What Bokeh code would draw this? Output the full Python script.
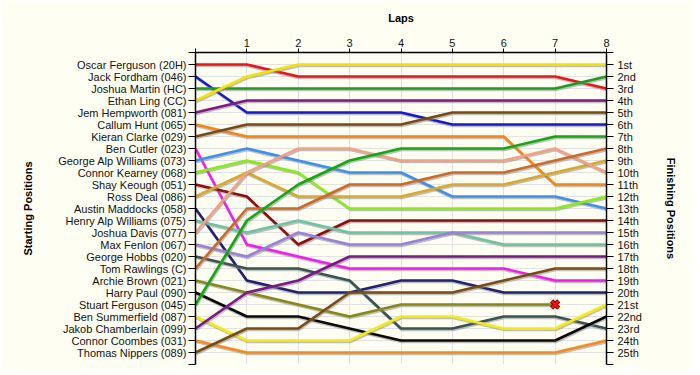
from bokeh.plotting import figure
from bokeh.models import Range1d, LinearAxis, FixedTicker
from bokeh.embed import file_html
from bokeh.resources import INLINE

laps = [0, 1, 2, 3, 4, 5, 6, 7, 8]

drivers = [
    "Oscar Ferguson (20H)", "Jack Fordham (046)", "Joshua Martin (HC)", "Ethan Ling (CC)",
    "Jem Hempworth (081)", "Callum Hunt (065)", "Kieran Clarke (029)", "Ben Cutler (023)",
    "George Alp Williams (073)", "Connor Kearney (068)", "Shay Keough (051)", "Ross Deal (086)",
    "Austin Maddocks (058)", "Henry Alp Williams (075)", "Joshua Davis (077)", "Max Fenlon (067)",
    "George Hobbs (020)", "Tom Rawlings (C)", "Archie Brown (021)", "Harry Paul (090)",
    "Stuart Ferguson (045)", "Ben Summerfield (087)", "Jakob Chamberlain (099)",
    "Connor Coombes (031)", "Thomas Nippers (089)",
]

colors = [
    "#E8161B", "#1A1ACD", "#1F9A22", "#F2E205",
    "#80188A", "#FB8411", "#7A4A14", "#F51BF0",
    "#3A92EE", "#86EE14", "#8C0E0E", "#DBA928",
    "#22226E", "#6CC4A4", "#F4A084", "#9A80DA",
    "#385450", "#CC6A2A", "#888818", "#0A0A0A",
    "#12A812", "#F5EB14", "#7A1A8A",
    "#F88A1C", "#7A4A14",
]

# position of each driver at laps 0..8 (lap 0 = starting grid)
positions = [
    [1, 1, 2, 2, 2, 2, 2, 2, 3],
    [2, 5, 5, 5, 5, 6, 6, 6, 6],
    [3, 3, 3, 3, 3, 3, 3, 3, 2],
    [4, 2, 1, 1, 1, 1, 1, 1, 1],
    [5, 4, 4, 4, 4, 4, 4, 4, 4],
    [6, 7, 7, 7, 7, 7, 7, 11, 11],
    [7, 6, 6, 6, 6, 5, 5, 5, 5],
    [8, 16, 17, 18, 18, 18, 18, 19, 19],
    [9, 8, 9, 10, 10, 12, 12, 12, 13],
    [10, 9, 10, 13, 13, 13, 13, 13, 12],
    [11, 12, 16, 14, 14, 14, 14, 14, 14],
    [12, 10, 12, 12, 12, 11, 11, 10, 9],
    [13, 19, 20, 20, 19, 19, 20, 20, 20],
    [14, 15, 14, 15, 15, 15, 16, 16, 16],
    [15, 10, 8, 8, 9, 9, 9, 8, 10],
    [16, 17, 15, 16, 16, 15, 15, 15, 15],
    [17, 18, 18, 19, 23, 23, 22, 22, 23],
    [18, 13, 13, 11, 11, 10, 10, 9, 8],
    [19, 20, 21, 22, 21, 21, 21, 21, None],
    [20, 22, 22, 23, 24, 24, 24, 24, 22],
    [21, 14, 11, 9, 8, 8, 8, 7, 7],
    [22, 24, 24, 24, 22, 22, 23, 23, 21],
    [23, 20, 19, 17, 17, 17, 17, 17, 17],
    [24, 25, 25, 25, 25, 25, 25, 25, 24],
    [25, 23, 23, 20, 20, 20, 19, 18, 18],
]

retired_driver = "Archie Brown (021)"
retired_lap = 7

finish_labels = ["1st", "2nd", "3rd"] + [f"{i}th" for i in range(4, 21)] + ["21st", "22nd", "23rd", "24th", "25th"]

n = len(drivers)
BG = "#FFFEF3"
FONT = "Liberation Sans"

p = figure(width=692, height=370, output_backend="svg", toolbar_location=None,
           x_range=Range1d(0, 8), y_range=Range1d(n + 1, 0),
           x_axis_location="above",
           min_border_left=195, min_border_right=86, min_border_top=52, min_border_bottom=6)
p.background_fill_color = BG
p.border_fill_color = BG
p.outline_line_color = None

p.xgrid.ticker = FixedTicker(ticks=laps)
p.ygrid.ticker = FixedTicker(ticks=list(range(0, n + 2)))
p.xgrid.grid_line_color = "#E2E2E2"
p.ygrid.grid_line_color = "#E2E2E2"

# x axis (top)
xa = p.xaxis[0]
xa.ticker = FixedTicker(ticks=laps)
xa.major_label_overrides = {0: ""}
xa.axis_label = "Laps"
xa.axis_label_text_font = FONT
xa.axis_label_text_font_style = "bold"
xa.axis_label_text_font_size = "11px"
xa.axis_label_text_color = "black"
xa.axis_label_standoff = 12
xa.major_label_text_font = FONT
xa.major_label_text_font_size = "11px"
xa.major_label_text_color = "#111111"
xa.major_label_standoff = 2
xa.major_tick_out = 4
xa.major_tick_in = 0
xa.minor_tick_line_color = None
xa.axis_line_width = 1.5

ticks_y = list(range(0, n + 2))
left_over = {0: "", n + 1: ""}
for i, d in enumerate(drivers):
    left_over[i + 1] = d
right_over = {0: "", n + 1: ""}
for i, t in enumerate(finish_labels):
    right_over[i + 1] = t

ya = p.yaxis[0]
ya.ticker = FixedTicker(ticks=ticks_y)
ya.major_label_overrides = left_over
ya.axis_label = "Starting Positions"

ra = LinearAxis(ticker=FixedTicker(ticks=ticks_y), major_label_overrides=right_over,
                axis_label="Finishing Positions")
p.add_layout(ra, "right")

for ax in (ya, ra):
    ax.axis_label_text_font = FONT
    ax.axis_label_text_font_style = "bold"
    ax.axis_label_text_font_size = "11px"
    ax.axis_label_text_color = "black"
    ax.major_label_text_font = FONT
    ax.major_label_text_font_size = "11px"
    ax.major_tick_out = 7
    ax.major_tick_in = 0
    ax.minor_tick_line_color = None
    ax.axis_line_width = 1.5
    ax.major_label_text_color = "#111111"
ya.major_label_standoff = 2
ra.major_label_standoff = 4
ya.axis_label_standoff = 21
ra.axis_label_standoff = 20

# shadows + lines
for name, col, pos in zip(drivers, colors, positions):
    xs = [l for l, v in zip(laps, pos) if v is not None]
    ys = [v for v in pos if v is not None]
    p.line([x + 0.015 for x in xs], [y + 0.13 for y in ys], line_color="#8A8A8A",
           line_alpha=0.55, line_width=2.6)
    p.line(xs, ys, line_color=col, line_width=2.6)

ri = drivers.index(retired_driver)
rpos = positions[ri][laps.index(retired_lap)]
p.scatter([retired_lap], [rpos], marker="x", size=10, line_color="#7A0000", line_width=4.5)
p.scatter([retired_lap], [rpos], marker="x", size=10, line_color="#F01010", line_width=2.5)

open("out.html", "w").write(file_html(p, INLINE))
